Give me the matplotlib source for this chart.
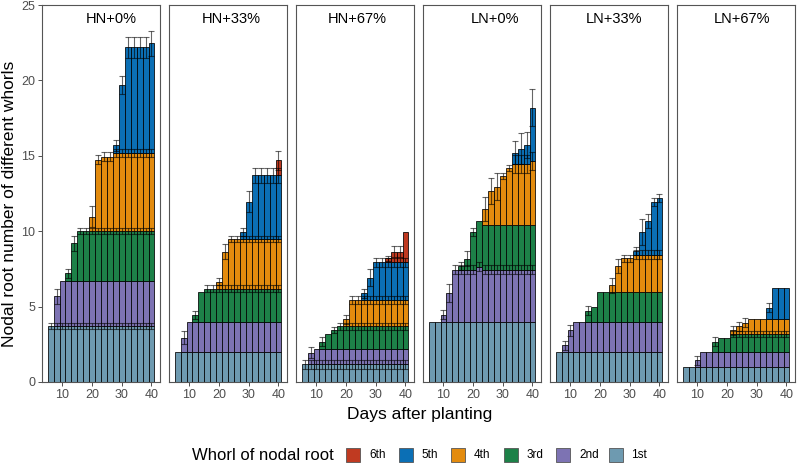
import numpy as np
import matplotlib
matplotlib.use("Agg")
import matplotlib.pyplot as plt
from matplotlib.patches import Rectangle

plt.rcParams['font.family'] = ['Liberation Sans', 'DejaVu Sans']

N = np.nan

days = [6, 8, 10, 12, 14, 16, 18, 20, 22, 24, 26, 28, 30, 32, 34, 36, 38, 40]
panels = ["HN+0%", "HN+33%", "HN+67%", "LN+0%", "LN+33%", "LN+67%"]
whorls = ["1st", "2nd", "3rd", "4th", "5th", "6th"]
colors = ["#6E9AB0", "#7D73B3", "#1D8148", "#E38B0E", "#0B6FB5", "#C03A21"]

# cumulative top of each whorl layer, one row per whorl (1st at the bottom)
hn0_tops = [
    [3.7, 3.7, 3.7, 3.7, 3.7, 3.7, 3.7, 3.7, 3.7, 3.7, 3.7, 3.7, 3.7, 3.7, 3.7, 3.7, 3.7, 3.7],
    [N, 5.7, 6.7, 6.7, 6.7, 6.7, 6.7, 6.7, 6.7, 6.7, 6.7, 6.7, 6.7, 6.7, 6.7, 6.7, 6.7, 6.7],
    [N, N, N, 7.2, 9.2, 10.0, 10.0, 10.0, 10.0, 10.0, 10.0, 10.0, 10.0, 10.0, 10.0, 10.0, 10.0, 10.0],
    [N, N, N, N, N, N, N, 10.95, 14.75, 14.95, 14.95, 15.2, 15.2, 15.2, 15.2, 15.2, 15.2, 15.2],
    [N, N, N, N, N, N, N, N, N, N, N, 15.7, 19.7, 22.2, 22.2, 22.2, 22.2, 22.45],
]
hn0_errs = [
    [0.2, 0.2, 0.2, 0.2, 0.2, 0.2, 0.2, 0.2, 0.2, 0.2, 0.2, 0.2, 0.2, 0.2, 0.2, 0.2, 0.2, 0.2],
    [0, 0.5, 0, 0, 0, 0, 0, 0, 0, 0, 0, 0, 0, 0, 0, 0, 0, 0],
    [0, 0, 0, 0.3, 0.5, 0.2, 0.2, 0.2, 0.2, 0.2, 0.2, 0.2, 0.2, 0.2, 0.2, 0.2, 0.2, 0.2],
    [0, 0, 0, 0, 0, 0, 0, 0.7, 0.3, 0.3, 0.3, 0.25, 0.25, 0.25, 0.25, 0.25, 0.25, 0.25],
    [0, 0, 0, 0, 0, 0, 0, 0, 0, 0, 0, 0.35, 0.6, 0.7, 0.7, 0.7, 0.7, 0.8],
]

hn33_tops = [
    [2.0, 2.0, 2.0, 2.0, 2.0, 2.0, 2.0, 2.0, 2.0, 2.0, 2.0, 2.0, 2.0, 2.0, 2.0, 2.0, 2.0, 2.0],
    [N, 2.95, 3.95, 3.95, 3.95, 3.95, 3.95, 3.95, 3.95, 3.95, 3.95, 3.95, 3.95, 3.95, 3.95, 3.95, 3.95, 3.95],
    [N, N, N, 4.45, 5.95, 6.2, 6.2, 6.2, 6.2, 6.2, 6.2, 6.2, 6.2, 6.2, 6.2, 6.2, 6.2, 6.2],
    [N, N, N, N, N, N, N, 6.65, 8.65, 9.5, 9.5, 9.5, 9.5, 9.5, 9.5, 9.5, 9.5, 9.5],
    [N, N, N, N, N, N, N, N, N, N, N, 9.95, 11.95, 13.7, 13.7, 13.7, 13.7, 13.7],
    [N, N, N, N, N, N, N, N, N, N, N, N, N, N, N, N, N, 14.7],
]
hn33_errs = [
    [0, 0, 0, 0, 0, 0, 0, 0, 0, 0, 0, 0, 0, 0, 0, 0, 0, 0],
    [0, 0.45, 0, 0, 0, 0, 0, 0, 0, 0, 0, 0, 0, 0, 0, 0, 0, 0],
    [0, 0, 0, 0.25, 0, 0.2, 0.2, 0.2, 0.2, 0.2, 0.2, 0.2, 0.2, 0.2, 0.2, 0.2, 0.2, 0.2],
    [0, 0, 0, 0, 0, 0, 0, 0.25, 0.5, 0.2, 0.2, 0.2, 0.2, 0.2, 0.2, 0.2, 0.2, 0.2],
    [0, 0, 0, 0, 0, 0, 0, 0, 0, 0, 0, 0.25, 0.7, 0.5, 0.5, 0.5, 0.5, 0.5],
    [0, 0, 0, 0, 0, 0, 0, 0, 0, 0, 0, 0, 0, 0, 0, 0, 0, 0.65],
]

hn67_tops = [
    [1.17, 1.17, 1.17, 1.17, 1.17, 1.17, 1.17, 1.17, 1.17, 1.17, 1.17, 1.17, 1.17, 1.17, 1.17, 1.17, 1.17, 1.17],
    [N, 1.95, 2.17, 2.17, 2.17, 2.17, 2.17, 2.17, 2.17, 2.17, 2.17, 2.17, 2.17, 2.17, 2.17, 2.17, 2.17, 2.17],
    [N, N, N, 2.68, 3.2, 3.43, 3.69, 3.69, 3.69, 3.69, 3.69, 3.69, 3.69, 3.69, 3.69, 3.69, 3.69, 3.69],
    [N, N, N, N, N, N, N, 4.16, 5.42, 5.42, 5.42, 5.42, 5.42, 5.42, 5.42, 5.42, 5.42, 5.42],
    [N, N, N, N, N, N, N, N, N, N, 5.9, 6.92, 7.94, 7.94, 7.94, 7.94, 7.94, 7.94],
    [N, N, N, N, N, N, N, N, N, N, N, N, N, N, 8.2, 8.65, 8.65, 9.93],
]
hn67_errs = [
    [0.3, 0.3, 0.3, 0.3, 0.3, 0.3, 0.3, 0.3, 0.3, 0.3, 0.3, 0.3, 0.3, 0.3, 0.3, 0.3, 0.3, 0.3],
    [0, 0.35, 0, 0, 0, 0, 0, 0, 0, 0, 0, 0, 0, 0, 0, 0, 0, 0],
    [0, 0, 0, 0.3, 0, 0.2, 0.25, 0.25, 0.25, 0.25, 0.25, 0.25, 0.25, 0.25, 0.25, 0.25, 0.25, 0.25],
    [0, 0, 0, 0, 0, 0, 0, 0.3, 0.25, 0.25, 0.25, 0.25, 0.25, 0.25, 0.25, 0.25, 0.25, 0.25],
    [0, 0, 0, 0, 0, 0, 0, 0, 0, 0, 0.3, 0.55, 0.3, 0.3, 0.3, 0.3, 0.3, 0.3],
    [0, 0, 0, 0, 0, 0, 0, 0, 0, 0, 0, 0, 0, 0, 0.15, 0.35, 0.35, 0],
]

ln0_tops = [
    [4.0, 4.0, 4.0, 4.0, 4.0, 4.0, 4.0, 4.0, 4.0, 4.0, 4.0, 4.0, 4.0, 4.0, 4.0, 4.0, 4.0, 4.0],
    [N, N, 4.45, 5.93, 7.45, 7.45, 7.45, 7.45, 7.65, 7.45, 7.45, 7.45, 7.45, 7.45, 7.45, 7.45, 7.45, 7.45],
    [N, N, N, N, N, 7.68, 8.18, 9.95, 10.68, 10.42, 10.42, 10.42, 10.42, 10.42, 10.42, 10.42, 10.42, 10.42],
    [N, N, N, N, N, N, N, N, N, 11.46, 12.67, 12.94, 13.67, 14.18, 14.44, 14.44, 14.44, 14.67],
    [N, N, N, N, N, N, N, N, N, N, N, N, N, N, 15.2, 15.48, 15.7, 18.2],
]
ln0_errs = [
    [0, 0, 0, 0, 0, 0, 0, 0, 0, 0, 0, 0, 0, 0, 0, 0, 0, 0],
    [0, 0, 0.3, 0.6, 0.3, 0.3, 0.3, 0.3, 0.3, 0.3, 0.3, 0.3, 0.3, 0.3, 0.3, 0.3, 0.3, 0.3],
    [0, 0, 0, 0, 0, 0.25, 0.5, 0.25, 0, 0, 0, 0, 0, 0, 0, 0, 0, 0],
    [0, 0, 0, 0, 0, 0, 0, 0, 0, 0.8, 0.85, 0.9, 0.2, 0.2, 0.6, 0.6, 0.6, 0.6],
    [0, 0, 0, 0, 0, 0, 0, 0, 0, 0, 0, 0, 0, 0, 0.75, 1.0, 0.85, 1.25],
]

ln33_tops = [
    [2.0, 2.0, 2.0, 2.0, 2.0, 2.0, 2.0, 2.0, 2.0, 2.0, 2.0, 2.0, 2.0, 2.0, 2.0, 2.0, 2.0, 2.0],
    [N, 2.45, 3.43, 4.0, 4.0, 4.0, 4.0, 4.0, 4.0, 4.0, 4.0, 4.0, 4.0, 4.0, 4.0, 4.0, 4.0, 4.0],
    [N, N, N, N, N, 4.71, 4.98, 5.95, 5.95, 5.95, 5.95, 5.95, 5.95, 5.95, 5.95, 5.95, 5.95, 5.95],
    [N, N, N, N, N, N, N, N, N, 6.41, 7.7, 8.2, 8.2, 8.43, 8.43, 8.43, 8.43, 8.43],
    [N, N, N, N, N, N, N, N, N, N, N, N, N, 8.69, 9.95, 10.68, 11.94, 12.2],
]
ln33_errs = [
    [0, 0, 0, 0, 0, 0, 0, 0, 0, 0, 0, 0, 0, 0, 0, 0, 0, 0],
    [0, 0.3, 0.35, 0, 0, 0, 0, 0, 0, 0, 0, 0, 0, 0, 0, 0, 0, 0],
    [0, 0, 0, 0, 0, 0.3, 0, 0, 0, 0, 0, 0, 0, 0, 0, 0, 0, 0],
    [0, 0, 0, 0, 0, 0, 0, 0, 0, 0.5, 0.45, 0.25, 0.25, 0.3, 0.3, 0.3, 0.3, 0.3],
    [0, 0, 0, 0, 0, 0, 0, 0, 0, 0, 0, 0, 0, 0.25, 0.85, 0.45, 0.25, 0.25],
]

ln67_tops = [
    [0.97, 0.97, 0.97, 0.97, 0.97, 0.97, 0.97, 0.97, 0.97, 0.97, 0.97, 0.97, 0.97, 0.97, 0.97, 0.97, 0.97, 0.97],
    [N, N, 1.44, 1.97, 1.97, 1.97, 1.97, 1.97, 1.97, 1.97, 1.97, 1.97, 1.97, 1.97, 1.97, 1.97, 1.97, 1.97],
    [N, N, N, N, N, 2.67, 2.94, 2.94, 3.2, 3.2, 3.2, 3.2, 3.2, 3.2, 3.2, 3.2, 3.2, 3.2],
    [N, N, N, N, N, N, N, N, 3.43, 3.69, 3.92, 4.2, 4.2, 4.2, 4.2, 4.2, 4.2, 4.2],
    [N, N, N, N, N, N, N, N, N, N, N, N, N, N, 4.93, 6.22, 6.22, 6.22],
]
ln67_errs = [
    [0, 0, 0, 0, 0, 0, 0, 0, 0, 0, 0, 0, 0, 0, 0, 0, 0, 0],
    [0, 0, 0.3, 0, 0, 0, 0, 0, 0, 0, 0, 0, 0, 0, 0, 0, 0, 0],
    [0, 0, 0, 0, 0, 0.3, 0, 0, 0.2, 0.2, 0.2, 0.2, 0.2, 0.2, 0.2, 0.2, 0.2, 0.2],
    [0, 0, 0, 0, 0, 0, 0, 0, 0.3, 0.3, 0.3, 0, 0, 0, 0, 0, 0, 0],
    [0, 0, 0, 0, 0, 0, 0, 0, 0, 0, 0, 0, 0, 0, 0.3, 0, 0, 0],
]

all_tops = [hn0_tops, hn33_tops, hn67_tops, ln0_tops, ln33_tops, ln67_tops]
all_errs = [hn0_errs, hn33_errs, hn67_errs, ln0_errs, ln33_errs, ln67_errs]
title_x = [26.4, 24.0, 23.9, 27.3, 24.7, 24.9]

W, H = 798, 466
fig = plt.figure(figsize=(W / 100, H / 100), dpi=100)
x = np.array(days)

for i, name in enumerate(panels):
    ax = fig.add_axes([(42.3 + i * 127) / W, 1 - 382 / H, 117.5 / W, 377 / H])
    tops = np.array(all_tops[i], dtype=float)
    errs = np.array(all_errs[i], dtype=float)
    below = np.zeros(len(days))
    for k in range(len(tops)):
        m = ~np.isnan(tops[k])
        ax.bar(x[m], (tops[k] - below)[m], bottom=below[m], width=2,
               color=colors[k], edgecolor='black', linewidth=0.55, zorder=2)
        below = np.where(m, tops[k], below)
    for k in range(len(tops)):
        m = (~np.isnan(tops[k])) & (errs[k] > 0)
        if m.any():
            ax.errorbar(x[m], tops[k][m], yerr=errs[k][m], fmt='none',
                        ecolor='black', elinewidth=0.8, capsize=2.2,
                        capthick=0.8, alpha=0.6, zorder=3)

    ax.set_xlim(3.2, 42.8)
    ax.set_ylim(0, 25)
    ax.set_xticks([10, 20, 30, 40])
    ax.set_yticks([0, 5, 10, 15, 20, 25])
    ax.tick_params(axis='both', length=3, width=0.6, color='#333333',
                   labelcolor='#4D4D4D', labelsize=9, pad=2)
    if i > 0:
        ax.tick_params(axis='y', left=False, labelleft=False)
    for s in ax.spines.values():
        s.set_color('#555555')
        s.set_linewidth(0.8)
    ax.text(title_x[i], 24.1, name, ha='center', va='center', fontsize=10.5)

fig.text(10 / W, 1 - 204 / H, "Nodal root number of different whorls",
         rotation=90, ha='center', va='center', fontsize=12.5)
fig.text(419.5 / W, 1 - 414 / H, "Days after planting",
         ha='center', va='center', fontsize=12.5)

# legend along the bottom
ly = 1 - 455 / H
fig.text(192 / W, ly, "Whorl of nodal root", ha='left', va='center', fontsize=12)
for j, k in enumerate(range(5, -1, -1)):
    kx = 346 + j * 52.5
    fig.patches.append(Rectangle((kx / W, (466 - 462) / H), 14 / W, 14 / H,
                                 transform=fig.transFigure, facecolor=colors[k],
                                 edgecolor='#555555', linewidth=0.6))
    fig.text((kx + 23) / W, ly, whorls[k], ha='left', va='center', fontsize=8.5)

fig.savefig("out.png", dpi=100)
